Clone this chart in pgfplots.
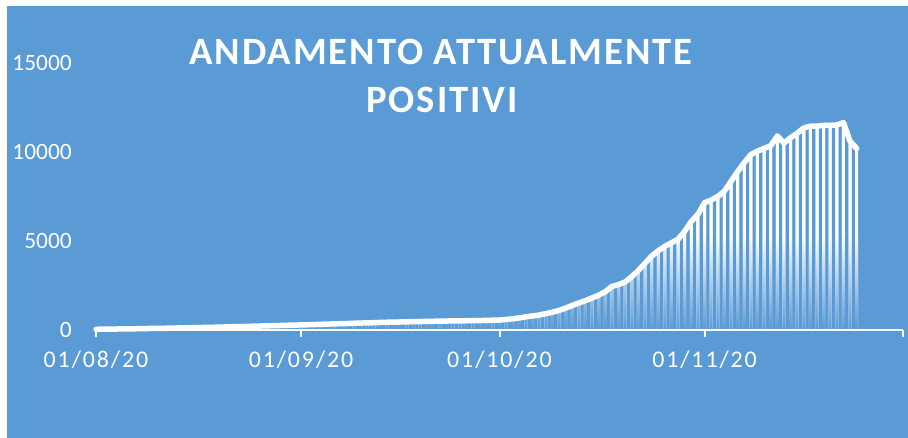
\documentclass[border=0pt]{standalone}
\usepackage{pgfplots}
\usepackage{pgfplotstable}
\pgfplotsset{compat=1.18}
\usepackage{fontspec}
\setmainfont{Carlito}
\newfontfamily\datefont[LetterSpace=8]{Carlito}
\newfontfamily\titlefont[LetterSpace=5]{Carlito}
\definecolor{bgblue}{RGB}{91,155,213}
\pgfdeclareverticalshading{barfade}{100bp}{color(0bp)=(bgblue); color(25bp)=(bgblue); color(48bp)=(white); color(100bp)=(white)}
\pgfplotstableread{
d v
0 40
1 45
2 50
3 55
4 60
5 65
6 70
7 75
8 85
9 90
10 95
11 100
12 110
13 120
14 125
15 130
16 140
17 150
18 155
19 165
20 175
21 185
22 195
23 205
24 215
25 225
26 235
27 245
28 255
29 265
30 275
31 285
32 295
33 305
34 320
35 330
36 345
37 355
38 365
39 380
40 390
41 400
42 410
43 425
44 435
45 445
46 450
47 460
48 470
49 475
50 485
51 490
52 500
53 505
54 510
55 515
56 520
57 525
58 530
59 540
60 550
61 560
62 590
63 630
64 680
65 740
66 790
67 840
68 920
69 1000
70 1100
71 1230
72 1380
73 1520
74 1650
75 1800
76 1960
77 2150
78 2450
79 2550
80 2700
81 3000
82 3350
83 3750
84 4150
85 4450
86 4700
87 4900
88 5100
89 5550
90 6100
91 6500
92 7150
93 7300
94 7500
95 7800
96 8350
97 8900
98 9400
99 9850
100 10050
101 10200
102 10350
103 10900
104 10500
105 10800
106 11050
107 11350
108 11450
109 11450
110 11500
111 11500
112 11520
113 11650
114 10600
115 10200
}\datatable
\begin{document}
\begin{tikzpicture}
\fill[white] (0bp,0bp) rectangle (908bp,438bp);
\fill[bgblue] (7bp,0bp) rectangle (908bp,432bp);
\begin{axis}[
  at={(96bp,108bp)}, anchor=south west,
  scale only axis, width=807bp, height=267bp,
  xmin=0, xmax=122, ymin=0, ymax=15000,
  axis lines*=left,
  axis on top,
  x axis line style={white, line width=2bp, -},
  y axis line style={draw=none, -},
  xtick={0,31,61,92,122},
  xticklabels={01/08/20,01/09/20,01/10/20,01/11/20,{}},
  ytick={0,5000,10000,15000},
  scaled y ticks=false,
  xtick align=outside,
  x tick style={white, line width=2bp},
  major tick length=7bp,
  y tick style={draw=none},
  /pgf/number format/assume math mode=true,
  /pgf/number format/1000 sep={},
  yticklabel style={white, font=\fontsize{23.5}{28}\selectfont, anchor=east, inner sep=0pt, xshift=-24bp, /pgf/number format/fixed},
  xticklabel style={white, font=\datefont\fontsize{24}{28}\selectfont, anchor=north, inner sep=0pt, yshift=-14bp},
  clip=false,
]
\addplot[ybar, bar width=3bp, bar shift=0pt, draw=none, fill=white, shade, shading=barfade] table[x=d, y=v] {\datatable};
\addplot[white, line width=5.5bp, line join=round, line cap=round, mark=none] table[x=d, y=v] {\datatable};
\end{axis}
\node[anchor=base, white, font=\titlefont\bfseries\fontsize{38.8}{44}\selectfont] at (441bp,373bp) {ANDAMENTO ATTUALMENTE};
\node[anchor=base, white, font=\titlefont\bfseries\fontsize{38.8}{44}\selectfont] at (442bp,325bp) {POSITIVI};
\end{tikzpicture}
\end{document}
